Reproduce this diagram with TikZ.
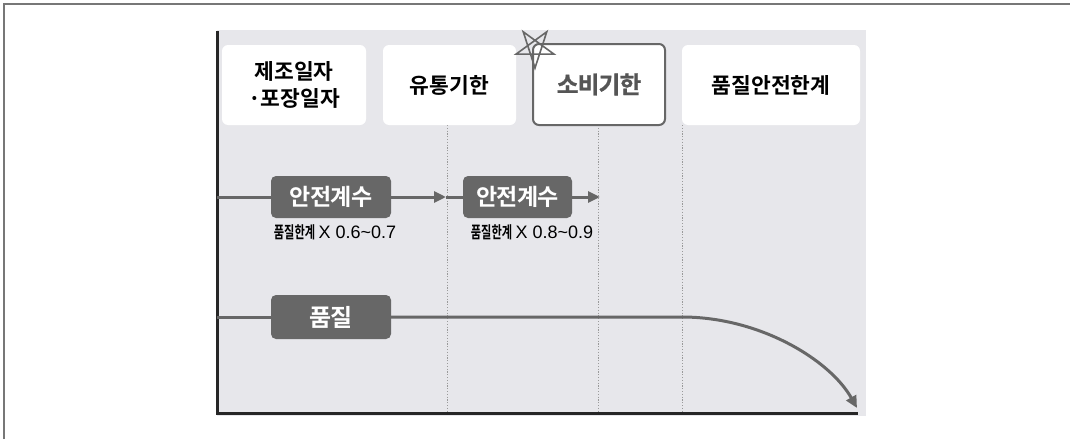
\documentclass[tikz,border=0pt]{standalone}
\usepackage{fontspec}
\newfontfamily\kr{Noto Sans CJK KR Bold}
\newfontfamily\krt{Noto Sans CJK KR Bold}[LetterSpace=-3]
\newfontfamily\krh{Noto Sans CJK KR Bold}[LetterSpace=-3,FakeBold=1.2]
\newfontfamily\krc{Noto Sans CJK KR Bold}[FakeStretch=0.68]
\newfontfamily\lat{Liberation Sans}
\usetikzlibrary{arrows.meta}
\definecolor{bg}{HTML}{E7E7EB}
\definecolor{dk}{HTML}{676767}
\definecolor{tx}{HTML}{555555}
\definecolor{ax}{HTML}{262626}
\definecolor{fr}{HTML}{777777}
\definecolor{dotc}{HTML}{9A9A9A}
\newcommand{\lbl}[2]{{\krc\fontsize{16.5}{18}\selectfont #1}\ {\lat\fontsize{18}{18}\selectfont #2}}
\tikzset{
  topbox/.style={fill=white, rounded corners=6pt, minimum height=80pt, inner sep=0pt, align=center, font=\kr\fontsize{21.5}{27}\selectfont},
  darkbox/.style={fill=dk, rounded corners=5pt, text=white, font=\krt\fontsize{23}{26}\selectfont, inner sep=0pt, minimum height=42pt},
  note/.style={inner sep=0pt},
  flow/.style={draw=dk, line width=3pt},
  tip/.style={-{Triangle[length=12pt,width=11pt]}},
  guide/.style={draw=dotc, line width=0.9pt, dash pattern=on 1.2pt off 1.6pt},
}
\begin{document}
\begin{tikzpicture}[x=1pt,y=-1pt]
\useasboundingbox (0,0) rectangle (1070,439);
% outer frame
\draw[fr, line width=1.5pt] (4,439) -- (4,4) -- (1070,4);
% background panel
\fill[bg] (217,30) rectangle (866,416);
% guides
\foreach \gx in {447,598,682} {\draw[guide] (\gx,125) -- (\gx,412);}
% top boxes
\node[topbox, minimum width=144pt] (b1) at (294,85) {제조일자\\·포장일자};
\node[topbox, minimum width=133pt] (b2) at (449.5,85) {유통기한};
\node[topbox, minimum width=132pt, minimum height=81pt, draw=dk, line width=2pt, text=tx, font=\krh\fontsize{23.5}{26}\selectfont] (b3) at (599,84.5) {소비기한};
\node[topbox, minimum width=178pt] (b4) at (771,85) {품질안전한계};
% star
\draw[dk, line width=1.6pt, line join=miter, shift={(535,48)}] (90:20) -- (-54:20) -- (162:20) -- (18:20) -- (-126:20) -- cycle;
% axes
\coordinate (top) at (217,31);
\coordinate (o) at (217,413);
\coordinate (xend) at (858,413);
\draw[ax, line width=3pt] (top) -- (o) -- (xend);
% middle row
\node[darkbox, minimum width=120pt] (sa) at (331,197) {안전계수};
\node[darkbox, minimum width=109pt] (sb) at (517.5,197) {안전계수};
\node[note] (na) at (335,232) {\lbl{품질한계}{X 0.6\textasciitilde0.7}};
\node[note] (nb) at (532,232) {\lbl{품질한계}{X 0.8\textasciitilde0.9}};
\coordinate (l1) at (217,197);
\coordinate (t1) at (446,197);
\coordinate (t2) at (600,197);
\draw[flow] (l1) -- (sa);
\draw[flow,tip] (sa) -- (t1);
\draw[flow] (t1) -- (sb);
\draw[flow,tip] (sb) -- (t2);
% bottom row
\node[darkbox, minimum width=120pt, minimum height=44pt, font=\krt\fontsize{24}{26}\selectfont] (q) at (331,317) {품질};
\coordinate (l2) at (217,317);
\coordinate (c0) at (682,317);
\coordinate (c1) at (857,408);
\draw[flow] (l2) -- (q);
\draw[flow,tip] (q) -- (c0) .. controls (760,317) and (830,360) .. (c1);
\end{tikzpicture}
\end{document}
